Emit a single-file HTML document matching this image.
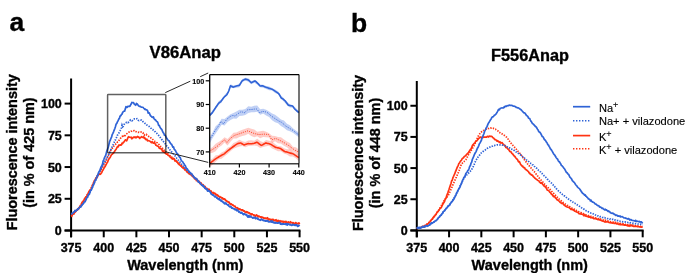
<!DOCTYPE html>
<html><head><meta charset="utf-8"><style>
html,body{margin:0;padding:0;background:#fff;}
body{width:685px;height:273px;overflow:hidden;}
svg{display:block;font-family:"Liberation Sans", sans-serif;will-change:transform;}
text[font-weight="700"]{stroke:#000;stroke-width:0.35px;}
</style></head><body>
<svg width="685" height="273" viewBox="0 0 685 273">
<rect width="685" height="273" fill="#fff"/>
<g id="panelA">
<text x="9.4" y="30.5" font-size="26.5" font-weight="700" text-anchor="start" >a</text>
<text x="185.3" y="58.4" font-size="16.7" font-weight="700" text-anchor="middle" >V86Anap</text>
<text transform="translate(16.8,152.3) rotate(-90)" font-size="14.4" font-weight="700" text-anchor="middle">Fluorescence intensity</text>
<text transform="translate(34.1,152.6) rotate(-90)" font-size="14.4" font-weight="700" text-anchor="middle">(in % of 425 nm)</text>
<text x="185.3" y="269.6" font-size="14.5" font-weight="700" text-anchor="middle" >Wavelength (nm)</text>
<g stroke="#000" stroke-width="2" fill="none">
<path d="M71.1 78.5V237.3"/>
<path d="M64.6 230.5H300.4"/>
<path d="M64.6 230.50H71.1"/>
<path d="M64.6 198.78H71.1"/>
<path d="M64.6 167.05H71.1"/>
<path d="M64.6 135.32H71.1"/>
<path d="M64.6 103.60H71.1"/>
<path d="M71.10 230.5V237.3"/>
<path d="M103.74 230.5V237.3"/>
<path d="M136.38 230.5V237.3"/>
<path d="M169.02 230.5V237.3"/>
<path d="M201.66 230.5V237.3"/>
<path d="M234.30 230.5V237.3"/>
<path d="M266.94 230.5V237.3"/>
<path d="M299.58 230.5V237.3"/>
</g>
<text x="61.8" y="235.0" font-size="12.5" font-weight="700" text-anchor="end" >0</text>
<text x="61.8" y="203.28" font-size="12.5" font-weight="700" text-anchor="end" >25</text>
<text x="61.8" y="171.55" font-size="12.5" font-weight="700" text-anchor="end" >50</text>
<text x="61.8" y="139.82" font-size="12.5" font-weight="700" text-anchor="end" >75</text>
<text x="61.8" y="108.1" font-size="12.5" font-weight="700" text-anchor="end" >100</text>
<text x="71.1" y="251.5" font-size="12.5" font-weight="700" text-anchor="middle" >375</text>
<text x="103.74" y="251.5" font-size="12.5" font-weight="700" text-anchor="middle" >400</text>
<text x="136.38" y="251.5" font-size="12.5" font-weight="700" text-anchor="middle" >425</text>
<text x="169.02" y="251.5" font-size="12.5" font-weight="700" text-anchor="middle" >450</text>
<text x="201.66" y="251.5" font-size="12.5" font-weight="700" text-anchor="middle" >475</text>
<text x="234.3" y="251.5" font-size="12.5" font-weight="700" text-anchor="middle" >500</text>
<text x="266.94" y="251.5" font-size="12.5" font-weight="700" text-anchor="middle" >525</text>
<text x="299.58" y="251.5" font-size="12.5" font-weight="700" text-anchor="middle" >550</text>
<path d="M71.10 216.26L71.75 216.34L72.41 214.66L73.06 214.04L73.71 213.92L74.36 212.99L75.02 211.73L75.67 211.32L76.32 210.76L76.98 210.02L77.63 209.95L78.28 208.31L78.93 208.57L79.59 207.03L80.24 206.07L80.89 205.61L81.55 203.85L82.20 202.03L82.85 201.90L83.50 201.28L84.16 199.79L84.81 198.38L85.46 197.67L86.12 196.75L86.77 196.36L87.42 194.48L88.07 193.44L88.73 191.99L89.38 190.82L90.03 190.05L90.69 189.90L91.34 188.53L91.99 187.02L92.64 184.99L93.30 184.06L93.95 181.74L94.60 180.89L95.26 179.61L95.91 178.34L96.56 177.56L97.21 177.48L97.87 174.98L98.52 174.69L99.17 173.98L99.83 174.32L100.48 174.15L101.13 173.31L101.78 172.39L102.44 170.76L103.09 169.90L103.74 168.71L104.40 167.32L105.05 166.70L105.70 165.29L106.35 164.13L107.01 162.76L107.66 161.88L108.31 159.93L108.97 158.86L109.62 158.09L110.27 157.26L110.92 155.78L111.58 154.57L112.23 154.32L112.88 153.43L113.54 152.95L114.19 151.89L114.84 150.95L115.49 149.97L116.15 149.21L116.80 147.94L117.45 146.71L118.11 146.92L118.76 145.16L119.41 145.33L120.06 144.83L120.72 145.26L121.37 145.00L122.02 143.21L122.68 143.59L123.33 142.23L123.98 141.89L124.63 141.07L125.29 139.94L125.94 139.96L126.59 140.79L127.25 139.53L127.90 137.70L128.55 136.66L129.20 137.22L129.86 137.24L130.51 137.49L131.16 137.18L131.82 138.77L132.47 138.37L133.12 137.34L133.77 137.19L134.43 137.43L135.08 136.88L135.73 137.80L136.38 137.58L137.04 136.84L137.69 136.46L138.34 137.24L139.00 137.05L139.65 138.49L140.30 137.47L140.95 137.35L141.61 136.71L142.26 137.18L142.91 137.41L143.57 136.82L144.22 138.12L144.87 137.82L145.52 139.45L146.18 139.59L146.83 139.03L147.48 140.78L148.14 140.75L148.79 140.63L149.44 141.04L150.09 141.32L150.75 141.92L151.40 142.61L152.05 141.82L152.71 142.22L153.36 143.19L154.01 143.01L154.66 142.75L155.32 144.08L155.97 145.25L156.62 145.46L157.28 146.01L157.93 146.27L158.58 146.60L159.23 148.03L159.89 148.50L160.54 148.34L161.19 149.07L161.85 149.38L162.50 151.24L163.15 151.59L163.80 151.28L164.46 152.71L165.11 152.67L165.76 153.36L166.42 154.18L167.07 153.67L167.72 154.82L168.37 155.51L169.03 155.82L169.68 156.10L170.33 157.39L170.99 157.54L171.64 158.20L172.29 159.05L172.94 158.15L173.60 158.45L174.25 159.09L174.90 160.96L175.56 160.54L176.21 160.99L176.86 162.14L177.51 162.12L178.17 163.60L178.82 164.21L179.47 164.72L180.13 165.31L180.78 166.07L181.43 165.82L182.08 167.37L182.74 167.73L183.39 168.43L184.04 167.77L184.70 169.78L185.35 169.76L186.00 169.74L186.65 171.69L187.31 172.12L187.96 172.48L188.61 173.51L189.27 172.95L189.92 174.29L190.57 174.19L191.22 175.00L191.88 175.80L192.53 175.95L193.18 177.09L193.84 177.05L194.49 178.68L195.14 178.99L195.79 178.67L196.45 180.71L197.10 180.12L197.75 181.08L198.41 181.70L199.06 182.34L199.71 182.02L200.36 183.84L201.02 183.36L201.67 184.08L202.32 185.05L202.98 185.46L203.63 185.66L204.28 186.78L204.93 187.73L205.59 187.46L206.24 188.48L206.89 188.80L207.55 189.09L208.20 189.27L208.85 189.26L209.50 190.37L210.16 190.91L210.81 191.03L211.46 191.68L212.12 192.96L212.77 192.86L213.42 193.53L214.07 193.04L214.73 193.16L215.38 193.93L216.03 194.91L216.69 194.45L217.34 195.60L217.99 195.42L218.64 196.43L219.30 196.88L219.95 197.26L220.60 197.01L221.26 197.70L221.91 197.61L222.56 198.79L223.21 198.42L223.87 199.35L224.52 198.96L225.17 199.51L225.83 200.51L226.48 200.82L227.13 201.22L227.78 201.59L228.44 202.38L229.09 202.23L229.74 203.39L230.40 204.47L231.05 203.95L231.70 204.55L232.35 204.55L233.01 205.07L233.66 205.68L234.31 206.08L234.97 206.44L235.62 207.15L236.27 207.75L236.92 207.92L237.58 207.94L238.23 209.24L238.88 208.76L239.54 209.34L240.19 209.26L240.84 209.91L241.49 209.83L242.15 210.27L242.80 209.90L243.45 210.93L244.11 211.19L244.76 211.36L245.41 212.46L246.06 212.41L246.72 211.58L247.37 212.26L248.02 212.71L248.68 212.53L249.33 213.35L249.98 213.63L250.63 213.90L251.29 214.79L251.94 213.82L252.59 214.55L253.25 214.74L253.90 215.07L254.55 215.43L255.20 216.37L255.86 215.51L256.51 214.82L257.16 215.56L257.82 216.33L258.47 216.81L259.12 216.58L259.77 216.62L260.43 217.03L261.08 216.79L261.73 217.77L262.39 217.05L263.04 217.63L263.69 218.11L264.34 218.16L265.00 218.04L265.65 218.01L266.30 218.47L266.96 218.40L267.61 217.74L268.26 219.68L268.91 219.99L269.57 219.20L270.22 219.81L270.87 219.47L271.52 220.38L272.18 219.74L272.83 219.35L273.48 219.57L274.14 220.67L274.79 220.45L275.44 220.04L276.09 219.75L276.75 221.10L277.40 221.17L278.05 220.41L278.71 221.17L279.36 221.58L280.01 220.76L280.66 222.07L281.32 221.73L281.97 221.09L282.62 221.90L283.28 221.37L283.93 222.34L284.58 221.55L285.23 221.77L285.89 221.35L286.54 222.26L287.19 222.39L287.85 222.36L288.50 221.94L289.15 222.81L289.80 222.63L290.46 221.77L291.11 222.37L291.76 222.47L292.42 223.09L293.07 222.55L293.72 223.52L294.37 223.73L295.03 223.55L295.68 222.56L296.33 223.18L296.99 223.73L297.64 223.53L298.29 223.22L298.94 222.95L299.60 224.25" stroke="#ff3312" stroke-width="1.7" fill="none" stroke-linejoin="round"/>
<path d="M71.10 215.81L71.75 215.11L72.41 214.78L73.06 214.54L73.71 213.87L74.36 213.02L75.02 212.49L75.67 211.61L76.32 211.37L76.98 210.01L77.63 209.27L78.28 208.96L78.93 207.89L79.59 206.97L80.24 205.93L80.89 204.69L81.55 203.87L82.20 202.90L82.85 201.63L83.50 200.54L84.16 199.82L84.81 198.72L85.46 198.00L86.12 196.63L86.77 195.42L87.42 194.65L88.07 193.70L88.73 192.93L89.38 191.55L90.03 190.67L90.69 189.02L91.34 187.56L91.99 186.23L92.64 184.98L93.30 183.47L93.95 182.20L94.60 180.64L95.26 179.29L95.91 178.07L96.56 177.33L97.21 175.80L97.87 174.76L98.52 173.97L99.17 172.82L99.83 171.79L100.48 171.25L101.13 169.71L101.78 168.80L102.44 167.68L103.09 166.19L103.74 165.00L104.40 163.59L105.05 162.30L105.70 160.89L106.35 159.64L107.01 158.19L107.66 156.89L108.31 155.53L108.97 153.78L109.62 152.62L110.27 151.31L110.92 149.99L111.58 149.15L112.23 148.33L112.88 147.65L113.54 146.53L114.19 145.79L114.84 144.92L115.49 144.33L116.15 143.63L116.80 143.20L117.45 142.09L118.11 141.70L118.76 140.77L119.41 139.76L120.06 138.90L120.72 138.05L121.37 137.09L122.02 136.64L122.68 135.71L123.33 135.03L123.98 136.03L124.63 136.93L125.29 135.26L125.94 134.23L126.59 133.80L127.25 133.33L127.90 132.75L128.55 132.24L129.20 132.16L129.86 132.13L130.51 131.67L131.16 131.21L131.82 131.10L132.47 130.83L133.12 130.40L133.77 130.73L134.43 130.71L135.08 131.43L135.73 131.57L136.38 131.77L137.04 132.11L137.69 132.42L138.34 132.47L139.00 132.26L139.65 132.50L140.30 132.34L140.95 132.11L141.61 132.08L142.26 132.30L142.91 132.61L143.57 134.15L144.22 135.26L144.87 134.55L145.52 134.28L146.18 134.23L146.83 135.06L147.48 135.49L148.14 135.87L148.79 136.44L149.44 136.76L150.09 136.99L150.75 137.79L151.40 138.20L152.05 138.51L152.71 139.36L153.36 139.95L154.01 140.56L154.66 141.14L155.32 141.50L155.97 141.76L156.62 142.37L157.28 142.82L157.93 143.50L158.58 144.09L159.23 144.53L159.89 145.41L160.54 146.46L161.19 147.04L161.85 147.49L162.50 148.25L163.15 149.46L163.80 149.93L164.46 150.68L165.11 151.71L165.76 151.89L166.42 152.22L167.07 153.24L167.72 153.75L168.37 154.13L169.03 154.92L169.68 155.48L170.33 155.93L170.99 156.76L171.64 157.01L172.29 157.85L172.94 158.20L173.60 158.65L174.25 159.09L174.90 160.05L175.56 160.47L176.21 161.06L176.86 161.97L177.51 162.29L178.17 162.82L178.82 163.36L179.47 163.73L180.13 164.61L180.78 165.23L181.43 165.83L182.08 166.41L182.74 166.92L183.39 167.34L184.04 168.33L184.70 168.75L185.35 169.71L186.00 170.18L186.65 170.48L187.31 171.42L187.96 171.62L188.61 172.05L189.27 172.97L189.92 173.52L190.57 173.99L191.22 174.65L191.88 175.15L192.53 175.83L193.18 176.16L193.84 176.82L194.49 177.45L195.14 178.36L195.79 178.69L196.45 179.14L197.10 179.60L197.75 180.38L198.41 180.75L199.06 181.29L199.71 182.10L200.36 182.47L201.02 183.19L201.67 183.91L202.32 184.32L202.98 184.68L203.63 185.39L204.28 186.01L204.93 186.44L205.59 187.00L206.24 187.62L206.89 188.46L207.55 189.08L208.20 189.45L208.85 189.43L209.50 190.05L210.16 190.86L210.81 190.94L211.46 191.71L212.12 191.89L212.77 192.19L213.42 192.76L214.07 193.01L214.73 193.39L215.38 194.18L216.03 194.32L216.69 194.61L217.34 195.15L217.99 195.66L218.64 195.61L219.30 196.19L219.95 196.71L220.60 197.15L221.26 197.43L221.91 197.65L222.56 198.33L223.21 198.60L223.87 199.07L224.52 199.60L225.17 200.01L225.83 200.46L226.48 201.07L227.13 201.61L227.78 201.74L228.44 202.08L229.09 202.67L229.74 203.34L230.40 203.65L231.05 204.18L231.70 204.74L232.35 205.10L233.01 205.45L233.66 205.68L234.31 206.32L234.97 206.34L235.62 206.87L236.27 207.04L236.92 207.42L237.58 207.88L238.23 208.23L238.88 208.54L239.54 208.87L240.19 209.13L240.84 209.28L241.49 209.78L242.15 209.94L242.80 210.34L243.45 210.84L244.11 211.01L244.76 211.28L245.41 211.53L246.06 212.00L246.72 212.06L247.37 212.58L248.02 212.79L248.68 212.92L249.33 213.25L249.98 213.66L250.63 213.97L251.29 214.09L251.94 214.35L252.59 214.16L253.25 214.87L253.90 215.15L254.55 214.82L255.20 215.63L255.86 215.68L256.51 215.72L257.16 216.00L257.82 216.16L258.47 216.18L259.12 216.25L259.77 216.77L260.43 216.93L261.08 217.22L261.73 217.44L262.39 217.60L263.04 217.68L263.69 217.96L264.34 218.00L265.00 218.28L265.65 218.54L266.30 218.58L266.96 218.72L267.61 218.91L268.26 219.04L268.91 219.04L269.57 219.47L270.22 219.27L270.87 219.64L271.52 219.71L272.18 219.63L272.83 219.81L273.48 220.36L274.14 220.16L274.79 220.13L275.44 220.60L276.09 220.65L276.75 220.49L277.40 221.01L278.05 220.66L278.71 221.24L279.36 221.25L280.01 221.33L280.66 221.42L281.32 221.33L281.97 221.48L282.62 221.61L283.28 221.70L283.93 222.07L284.58 222.01L285.23 221.84L285.89 222.27L286.54 221.96L287.19 222.29L287.85 222.50L288.50 222.31L289.15 222.39L289.80 222.69L290.46 222.75L291.11 222.87L291.76 222.91L292.42 223.24L293.07 223.06L293.72 222.83L294.37 223.17L295.03 223.10L295.68 223.09L296.33 223.25L296.99 223.41L297.64 223.47L298.29 223.53L298.94 223.44L299.60 223.60" stroke="#ff3312" stroke-width="1.7" fill="none" stroke-dasharray="1.4 1.25"/>
<path d="M71.10 213.83L71.75 213.80L72.41 213.09L73.06 212.94L73.71 212.14L74.36 212.08L75.02 211.47L75.67 210.96L76.32 210.68L76.98 209.71L77.63 209.55L78.28 208.98L78.93 208.32L79.59 207.55L80.24 207.20L80.89 206.15L81.55 205.79L82.20 205.13L82.85 204.26L83.50 203.52L84.16 202.76L84.81 201.71L85.46 200.57L86.12 199.27L86.77 198.34L87.42 197.13L88.07 196.35L88.73 194.82L89.38 193.55L90.03 192.03L90.69 190.79L91.34 189.67L91.99 188.20L92.64 186.83L93.30 185.45L93.95 183.85L94.60 182.44L95.26 180.89L95.91 179.43L96.56 178.17L97.21 176.57L97.87 175.52L98.52 173.97L99.17 172.59L99.83 171.56L100.48 169.87L101.13 168.58L101.78 167.16L102.44 166.19L103.09 164.87L103.74 163.65L104.40 162.79L105.05 161.29L105.70 160.39L106.35 158.99L107.01 157.79L107.66 156.70L108.31 155.83L108.97 153.95L109.62 152.67L110.27 151.03L110.92 149.73L111.58 148.16L112.23 146.32L112.88 145.22L113.54 143.83L114.19 142.41L114.84 140.81L115.49 139.81L116.15 138.25L116.80 137.00L117.45 135.20L118.11 134.22L118.76 133.20L119.41 131.98L120.06 130.83L120.72 129.77L121.37 127.99L122.02 125.16L122.68 126.80L123.33 126.25L123.98 124.68L124.63 123.58L125.29 123.02L125.94 122.74L126.59 122.24L127.25 122.15L127.90 122.71L128.55 122.13L129.20 121.19L129.86 120.64L130.51 119.86L131.16 120.23L131.82 120.75L132.47 120.45L133.12 119.55L133.77 119.15L134.43 118.89L135.08 118.98L135.73 119.16L136.38 118.94L137.04 118.61L137.69 118.94L138.34 120.25L139.00 120.48L139.65 120.17L140.30 120.02L140.95 120.14L141.61 120.10L142.26 120.71L142.91 121.54L143.57 122.11L144.22 122.49L144.87 123.27L145.52 123.64L146.18 124.22L146.83 125.07L147.48 125.31L148.14 125.69L148.79 126.16L149.44 126.77L150.09 127.49L150.75 128.12L151.40 128.50L152.05 129.25L152.71 129.51L153.36 130.29L154.01 130.78L154.66 131.58L155.32 131.78L155.97 132.59L156.62 133.06L157.28 134.08L157.93 134.60L158.58 135.30L159.23 136.22L159.89 137.04L160.54 137.88L161.19 138.75L161.85 139.63L162.50 140.52L163.15 141.03L163.80 142.00L164.46 142.80L165.11 143.58L165.76 144.64L166.42 145.47L167.07 146.29L167.72 146.64L168.37 147.78L169.03 148.45L169.68 149.65L170.33 150.25L170.99 150.98L171.64 151.89L172.29 152.44L172.94 153.48L173.60 154.25L174.25 154.88L174.90 155.63L175.56 156.64L176.21 157.58L176.86 158.37L177.51 158.96L178.17 160.12L178.82 160.93L179.47 161.72L180.13 162.22L180.78 163.11L181.43 164.10L182.08 164.86L182.74 165.51L183.39 166.35L184.04 167.18L184.70 167.89L185.35 168.52L186.00 169.29L186.65 169.90L187.31 170.64L187.96 171.37L188.61 171.86L189.27 172.50L189.92 173.52L190.57 173.82L191.22 174.57L191.88 175.28L192.53 175.63L193.18 176.33L193.84 176.90L194.49 177.69L195.14 177.96L195.79 178.78L196.45 179.58L197.10 179.83L197.75 180.89L198.41 181.17L199.06 182.09L199.71 182.79L200.36 183.46L201.02 184.15L201.67 184.79L202.32 185.24L202.98 185.95L203.63 186.83L204.28 187.19L204.93 188.08L205.59 188.40L206.24 189.16L206.89 189.74L207.55 190.12L208.20 191.20L208.85 191.12L209.50 191.55L210.16 192.41L210.81 193.03L211.46 193.75L212.12 193.99L212.77 194.70L213.42 195.22L214.07 195.80L214.73 195.95L215.38 196.52L216.03 197.35L216.69 197.61L217.34 198.27L217.99 198.38L218.64 199.12L219.30 199.45L219.95 199.80L220.60 200.37L221.26 200.97L221.91 201.29L222.56 201.87L223.21 201.89L223.87 202.40L224.52 203.26L225.17 203.60L225.83 203.51L226.48 204.18L227.13 204.76L227.78 204.99L228.44 205.50L229.09 205.84L229.74 206.43L230.40 206.53L231.05 207.14L231.70 207.75L232.35 207.96L233.01 208.38L233.66 208.64L234.31 209.02L234.97 209.40L235.62 209.90L236.27 210.08L236.92 210.55L237.58 210.55L238.23 211.32L238.88 211.52L239.54 211.89L240.19 212.29L240.84 212.40L241.49 212.74L242.15 213.08L242.80 213.18L243.45 213.81L244.11 213.96L244.76 214.31L245.41 214.58L246.06 215.10L246.72 215.37L247.37 215.32L248.02 215.90L248.68 215.80L249.33 215.99L249.98 216.55L250.63 216.64L251.29 216.89L251.94 216.90L252.59 217.02L253.25 217.43L253.90 217.62L254.55 217.76L255.20 218.30L255.86 218.35L256.51 218.39L257.16 218.78L257.82 218.63L258.47 219.21L259.12 219.26L259.77 219.38L260.43 219.46L261.08 219.87L261.73 219.94L262.39 219.98L263.04 220.18L263.69 220.25L264.34 220.62L265.00 220.81L265.65 221.22L266.30 221.13L266.96 221.14L267.61 221.43L268.26 221.40L268.91 221.34L269.57 221.68L270.22 221.59L270.87 221.74L271.52 221.98L272.18 221.99L272.83 222.08L273.48 222.55L274.14 222.21L274.79 222.84L275.44 222.64L276.09 222.89L276.75 222.99L277.40 222.98L278.05 223.17L278.71 223.24L279.36 223.32L280.01 223.55L280.66 223.47L281.32 223.77L281.97 223.61L282.62 223.96L283.28 223.83L283.93 224.03L284.58 223.81L285.23 224.27L285.89 224.02L286.54 224.34L287.19 224.61L287.85 224.23L288.50 224.37L289.15 224.34L289.80 224.75L290.46 224.61L291.11 224.59L291.76 224.87L292.42 224.53L293.07 225.07L293.72 224.94L294.37 225.30L295.03 225.34L295.68 225.34L296.33 225.36L296.99 225.37L297.64 225.39L298.29 225.85L298.94 225.56L299.60 225.72" stroke="#2f63d6" stroke-width="1.7" fill="none" stroke-dasharray="1.4 1.25"/>
<path d="M71.10 213.75L71.75 213.36L72.41 213.46L73.06 212.76L73.71 212.30L74.36 211.81L75.02 210.39L75.67 210.99L76.32 210.49L76.98 210.04L77.63 208.85L78.28 208.96L78.93 208.27L79.59 207.28L80.24 206.74L80.89 206.88L81.55 204.98L82.20 204.96L82.85 203.91L83.50 203.36L84.16 201.84L84.81 201.79L85.46 200.89L86.12 199.35L86.77 197.79L87.42 197.24L88.07 195.63L88.73 194.11L89.38 194.19L90.03 191.68L90.69 190.50L91.34 189.87L91.99 188.24L92.64 186.94L93.30 184.84L93.95 183.94L94.60 181.83L95.26 179.97L95.91 179.86L96.56 177.36L97.21 176.05L97.87 174.70L98.52 172.74L99.17 171.45L99.83 170.55L100.48 168.62L101.13 166.88L101.78 165.70L102.44 164.41L103.09 161.08L103.74 159.78L104.40 157.98L105.05 156.57L105.70 155.57L106.35 152.83L107.01 150.50L107.66 148.95L108.31 146.93L108.97 144.37L109.62 141.46L110.27 140.24L110.92 138.47L111.58 137.17L112.23 134.55L112.88 133.40L113.54 131.81L114.19 130.14L114.84 128.50L115.49 126.46L116.15 124.04L116.80 123.38L117.45 121.68L118.11 120.84L118.76 119.00L119.41 118.49L120.06 115.96L120.72 115.80L121.37 114.72L122.02 114.11L122.68 112.33L123.33 111.72L123.98 111.13L124.63 111.13L125.29 109.11L125.94 106.68L126.59 107.10L127.25 107.36L127.90 106.30L128.55 106.39L129.20 106.20L129.86 106.40L130.51 105.09L131.16 104.06L131.82 102.45L132.47 102.65L133.12 102.51L133.77 103.03L134.43 104.29L135.08 104.64L135.73 105.23L136.38 103.42L137.04 103.70L137.69 104.52L138.34 105.58L139.00 106.12L139.65 106.41L140.30 106.30L140.95 107.00L141.61 107.20L142.26 107.24L142.91 107.26L143.57 108.04L144.22 108.73L144.87 109.35L145.52 109.20L146.18 109.95L146.83 109.89L147.48 110.36L148.14 113.05L148.79 112.58L149.44 113.18L150.09 114.94L150.75 115.94L151.40 116.35L152.05 117.21L152.71 117.41L153.36 116.78L154.01 118.63L154.66 119.57L155.32 119.62L155.97 120.54L156.62 121.34L157.28 121.77L157.93 122.88L158.58 125.35L159.23 125.34L159.89 126.94L160.54 127.99L161.19 128.94L161.85 129.63L162.50 131.15L163.15 132.57L163.80 133.31L164.46 135.16L165.11 135.18L165.76 136.26L166.42 137.82L167.07 138.84L167.72 139.72L168.37 140.42L169.03 140.73L169.68 141.99L170.33 143.17L170.99 143.95L171.64 144.26L172.29 145.97L172.94 147.24L173.60 146.97L174.25 149.38L174.90 149.87L175.56 150.76L176.21 152.15L176.86 153.35L177.51 153.70L178.17 155.19L178.82 155.92L179.47 157.16L180.13 157.33L180.78 159.38L181.43 160.47L182.08 161.25L182.74 161.91L183.39 162.98L184.04 163.83L184.70 165.20L185.35 165.72L186.00 167.55L186.65 168.45L187.31 168.96L187.96 170.05L188.61 170.93L189.27 171.64L189.92 172.48L190.57 172.81L191.22 173.36L191.88 173.85L192.53 175.03L193.18 176.10L193.84 176.96L194.49 177.64L195.14 178.54L195.79 178.26L196.45 178.45L197.10 179.92L197.75 180.45L198.41 182.20L199.06 181.94L199.71 182.86L200.36 183.23L201.02 184.28L201.67 184.91L202.32 185.63L202.98 186.18L203.63 185.66L204.28 186.89L204.93 188.46L205.59 188.55L206.24 189.23L206.89 188.78L207.55 191.06L208.20 190.59L208.85 191.08L209.50 191.07L210.16 191.81L210.81 193.17L211.46 194.33L212.12 194.59L212.77 194.96L213.42 195.26L214.07 195.97L214.73 196.75L215.38 196.37L216.03 197.06L216.69 197.76L217.34 198.27L217.99 198.80L218.64 199.43L219.30 198.31L219.95 200.03L220.60 200.59L221.26 200.10L221.91 201.37L222.56 201.51L223.21 202.54L223.87 202.71L224.52 203.77L225.17 203.19L225.83 202.92L226.48 204.15L227.13 204.53L227.78 204.59L228.44 205.01L229.09 206.33L229.74 206.69L230.40 206.90L231.05 206.59L231.70 208.07L232.35 208.18L233.01 208.42L233.66 208.67L234.31 208.95L234.97 209.57L235.62 209.21L236.27 210.42L236.92 209.53L237.58 210.69L238.23 210.82L238.88 212.01L239.54 211.64L240.19 212.67L240.84 213.10L241.49 212.43L242.15 213.09L242.80 213.92L243.45 214.62L244.11 213.70L244.76 214.31L245.41 214.26L246.06 214.47L246.72 214.67L247.37 216.45L248.02 217.16L248.68 215.68L249.33 217.07L249.98 215.97L250.63 216.53L251.29 216.94L251.94 217.18L252.59 218.07L253.25 217.61L253.90 217.86L254.55 217.80L255.20 217.29L255.86 218.59L256.51 218.24L257.16 217.93L257.82 219.23L258.47 219.47L259.12 219.60L259.77 219.94L260.43 220.33L261.08 219.47L261.73 219.23L262.39 219.79L263.04 220.45L263.69 220.63L264.34 220.39L265.00 220.97L265.65 220.86L266.30 221.16L266.96 220.65L267.61 220.91L268.26 221.26L268.91 221.95L269.57 221.81L270.22 221.38L270.87 221.03L271.52 222.19L272.18 220.92L272.83 222.38L273.48 222.49L274.14 222.28L274.79 222.84L275.44 222.65L276.09 222.72L276.75 223.08L277.40 223.11L278.05 222.84L278.71 222.64L279.36 222.29L280.01 223.31L280.66 224.13L281.32 223.78L281.97 224.40L282.62 223.73L283.28 224.16L283.93 223.80L284.58 224.15L285.23 224.12L285.89 224.38L286.54 223.60L287.19 225.20L287.85 223.96L288.50 224.02L289.15 224.34L289.80 224.57L290.46 224.58L291.11 225.03L291.76 225.39L292.42 224.62L293.07 224.72L293.72 224.71L294.37 225.25L295.03 224.78L295.68 225.03L296.33 224.54L296.99 225.44L297.64 226.45L298.29 226.03L298.94 225.44L299.60 226.30" stroke="#2f63d6" stroke-width="1.7" fill="none" stroke-linejoin="round"/>
<rect x="107.6" y="94.6" width="58.2" height="58.2" rx="0.6" fill="none" stroke="#000" stroke-opacity="0.62" stroke-width="1.5"/>
<path d="M165.3 92.6L190.3 81.2M200.2 76.7L208.2 73.0" stroke="#2a2a2a" stroke-width="1.0" fill="none"/>
<path d="M165.5 151.8L208.2 162.4" stroke="#2a2a2a" stroke-width="1.0" fill="none"/>
<g id="inset">
<path d="M209.70 113.89L212.67 110.15L215.64 106.45L218.61 101.34L221.58 99.30L224.55 95.26L227.52 91.55L230.49 84.37L233.46 85.54L236.43 85.01L239.40 83.54L242.37 79.11L245.34 77.82L248.31 78.20L251.28 81.40L254.25 79.79L257.22 81.71L260.19 84.62L263.16 84.85L266.13 86.06L269.10 86.62L272.07 87.98L275.04 89.59L278.01 91.18L280.98 95.58L283.95 98.13L286.92 101.65L289.89 104.24L292.86 105.19L295.83 108.01L298.80 111.04L298.80 113.54L295.83 111.27L292.86 107.81L289.89 107.40L286.92 105.08L283.95 101.74L280.98 98.63L278.01 94.36L275.04 92.89L272.07 90.42L269.10 90.19L266.13 89.00L263.16 87.87L260.19 87.14L257.22 84.59L254.25 82.75L251.28 84.21L248.31 81.86L245.34 80.39L242.37 82.25L239.40 87.17L236.43 87.66L233.46 88.13L230.49 87.23L227.52 94.92L224.55 97.70L221.58 102.54L218.61 104.93L215.64 109.37L212.67 113.75L209.70 116.50Z" fill="rgba(60,110,225,0.32)" stroke-linejoin="round"/>
<path d="M209.70 137.08L212.67 132.14L215.64 126.20L218.61 123.69L221.58 118.65L224.55 118.97L227.52 116.38L230.49 114.28L233.46 112.99L236.43 111.60L239.40 109.64L242.37 109.78L245.34 109.10L248.31 106.32L251.28 106.66L254.25 105.84L257.22 105.44L260.19 109.13L263.16 108.70L266.13 109.64L269.10 111.45L272.07 113.48L275.04 114.85L278.01 116.95L280.98 119.47L283.95 120.56L286.92 123.80L289.89 125.16L292.86 128.21L295.83 130.53L298.80 132.46L298.80 137.17L295.83 135.01L292.86 132.75L289.89 131.37L286.92 130.30L283.95 127.64L280.98 126.08L278.01 123.29L275.04 122.37L272.07 120.34L269.10 117.03L266.13 115.41L263.16 113.51L260.19 114.67L257.22 111.83L254.25 112.17L251.28 112.16L248.31 113.08L245.34 114.95L242.37 115.73L239.40 116.01L236.43 118.75L233.46 118.39L230.49 120.11L227.52 121.92L224.55 125.48L221.58 124.66L218.61 129.13L215.64 133.59L212.67 138.10L209.70 143.38Z" fill="rgba(60,110,225,0.32)" stroke-linejoin="round"/>
<path d="M209.70 149.06L212.67 146.92L215.64 143.75L218.61 141.97L221.58 139.99L224.55 137.13L227.52 139.12L230.49 135.90L233.46 132.64L236.43 132.55L239.40 131.01L242.37 129.64L245.34 128.81L248.31 127.77L251.28 128.85L254.25 129.53L257.22 131.63L260.19 131.18L263.16 130.82L266.13 131.75L269.10 133.17L272.07 135.71L275.04 136.03L278.01 136.92L280.98 137.18L283.95 139.40L286.92 141.47L289.89 142.88L292.86 146.81L295.83 147.21L298.80 149.40L298.80 155.66L295.83 152.97L292.86 151.18L289.89 149.69L286.92 147.20L283.95 145.71L280.98 143.53L278.01 143.31L275.04 141.17L272.07 143.12L269.10 137.38L266.13 137.27L263.16 137.01L260.19 138.23L257.22 136.35L254.25 137.28L251.28 135.89L248.31 133.80L245.34 135.33L242.37 136.06L239.40 137.11L236.43 138.43L233.46 138.54L230.49 141.65L227.52 145.58L224.55 142.57L221.58 145.41L218.61 147.52L215.64 151.29L212.67 152.70L209.70 153.33Z" fill="rgba(255,70,50,0.28)" stroke-linejoin="round"/>
<path d="M209.70 160.21L212.67 158.42L215.64 155.27L218.61 155.06L221.58 152.39L224.55 151.06L227.52 147.73L230.49 146.60L233.46 143.08L236.43 141.64L239.40 139.72L242.37 141.30L245.34 142.02L248.31 140.38L251.28 140.18L254.25 140.80L257.22 138.82L260.19 141.11L263.16 142.37L266.13 140.07L269.10 140.73L272.07 141.55L275.04 144.00L278.01 145.90L280.98 146.27L283.95 148.33L286.92 149.36L289.89 149.33L292.86 151.43L295.83 153.44L298.80 154.85L298.80 161.15L295.83 158.31L292.86 156.41L289.89 156.49L286.92 154.47L283.95 153.48L280.98 151.24L278.01 151.21L275.04 149.78L272.07 148.57L269.10 145.65L266.13 146.13L263.16 146.94L260.19 148.04L257.22 145.98L254.25 145.42L251.28 145.87L248.31 146.07L245.34 147.21L242.37 146.08L239.40 146.39L236.43 147.49L233.46 148.65L230.49 151.34L227.52 154.03L224.55 156.21L221.58 158.81L218.61 159.23L215.64 161.72L212.67 164.67L209.70 166.72Z" fill="rgba(255,70,50,0.28)" stroke-linejoin="round"/>
<path d="M209.70 115.40L210.44 114.66L211.19 113.92L211.93 113.18L212.67 112.12L213.41 110.99L214.16 109.85L214.90 108.72L215.64 107.58L216.38 106.51L217.12 105.45L217.87 104.38L218.61 103.31L219.35 102.72L220.09 102.13L220.84 101.54L221.58 100.60L222.32 99.58L223.06 98.55L223.81 97.53L224.55 96.68L225.29 96.09L226.03 95.49L226.78 94.75L227.52 93.39L228.26 92.04L229.00 90.32L229.75 88.05L230.49 85.78L231.23 86.17L231.97 86.57L232.72 86.96L233.46 87.09L234.20 86.82L234.94 86.55L235.69 86.28L236.43 86.01L237.17 85.84L237.91 85.66L238.66 85.48L239.40 85.30L240.14 84.05L240.88 82.80L241.63 81.55L242.37 80.65L243.11 80.27L243.85 79.90L244.60 79.52L245.34 79.14L246.08 79.36L246.82 79.57L247.57 79.79L248.31 80.00L249.05 80.52L249.79 81.25L250.54 81.97L251.28 82.70L252.02 82.33L252.76 81.97L253.51 81.60L254.25 81.24L254.99 80.87L255.73 81.38L256.48 82.10L257.22 82.83L257.96 83.57L258.70 84.38L259.45 85.20L260.19 86.01L260.93 85.94L261.68 85.87L262.42 85.79L263.16 86.04L263.90 86.36L264.64 86.68L265.39 87.01L266.13 87.31L266.87 87.58L267.62 87.85L268.36 88.11L269.10 88.38L269.84 88.60L270.58 88.81L271.33 89.03L272.07 89.25L272.81 89.62L273.56 90.11L274.30 90.59L275.04 91.08L275.78 91.57L276.52 92.11L277.27 92.65L278.01 93.19L278.75 93.73L279.50 94.90L280.24 96.23L280.98 97.57L281.72 98.31L282.46 98.67L283.21 99.21L283.95 99.87L284.69 100.52L285.44 101.18L286.18 102.19L286.92 103.20L287.66 104.20L288.40 105.21L289.15 105.36L289.89 105.51L290.63 105.66L291.38 105.76L292.12 105.86L292.86 106.34L293.60 107.37L294.35 108.41L295.09 109.37L295.83 110.01L296.57 110.64L297.31 111.28L298.06 111.92L298.80 112.56" stroke="#2f63d6" stroke-width="1.6" fill="none" stroke-linejoin="round"/>
<path d="M209.70 139.58L210.44 138.36L211.19 137.15L211.93 135.93L212.67 134.72L213.41 133.50L214.16 132.29L214.90 131.07L215.64 129.86L216.38 128.85L217.12 127.84L217.87 126.84L218.61 125.83L219.35 124.35L220.09 122.87L220.84 121.39L221.58 121.86L222.32 122.82L223.06 123.79L223.81 123.52L224.55 122.45L225.29 121.37L226.03 120.29L226.78 119.31L227.52 118.72L228.26 118.13L229.00 117.54L229.75 116.94L230.49 116.35L231.23 115.98L231.97 115.76L232.72 115.54L233.46 115.52L234.20 115.82L234.94 116.11L235.69 115.52L236.43 114.93L237.17 114.34L237.91 113.74L238.66 113.26L239.40 112.77L240.14 112.29L240.88 111.80L241.63 111.77L242.37 112.04L243.11 112.31L243.85 112.58L244.60 112.65L245.34 111.95L246.08 111.25L246.82 110.55L247.57 109.85L248.31 109.68L249.05 109.63L249.79 109.59L250.54 109.54L251.28 109.50L252.02 109.42L252.76 109.32L253.51 109.22L254.25 109.12L254.99 109.02L255.73 109.00L256.48 109.00L257.22 109.42L257.96 110.48L258.70 111.53L259.45 112.58L260.19 112.51L260.93 112.16L261.68 111.80L262.42 111.44L263.16 111.47L263.90 111.60L264.64 111.73L265.39 111.86L266.13 111.98L266.87 112.21L267.62 112.85L268.36 113.49L269.10 114.13L269.84 114.76L270.58 115.40L271.33 115.95L272.07 116.50L272.81 117.05L273.56 117.60L274.30 118.15L275.04 118.67L275.78 119.13L276.52 119.60L277.27 120.07L278.01 120.53L278.75 121.00L279.50 121.37L280.24 121.73L280.98 122.09L281.72 122.44L282.46 123.06L283.21 123.76L283.95 124.45L284.69 125.14L285.44 125.83L286.18 126.29L286.92 126.74L287.66 127.20L288.40 127.65L289.15 128.11L289.89 128.56L290.63 129.02L291.38 129.48L292.12 129.93L292.86 130.39L293.60 130.93L294.35 131.52L295.09 132.11L295.83 132.70L296.57 133.28L297.31 133.80L298.06 134.32L298.80 134.84" stroke="#2f63d6" stroke-width="1.0" fill="none" stroke-linejoin="round" stroke-dasharray="1 1.2"/>
<path d="M209.70 151.19L210.44 150.73L211.19 150.28L211.93 149.82L212.67 149.37L213.41 148.91L214.16 148.41L214.90 147.89L215.64 147.38L216.38 146.87L217.12 146.35L217.87 145.84L218.61 145.14L219.35 144.39L220.09 143.64L220.84 142.89L221.58 142.14L222.32 141.39L223.06 140.88L223.81 140.44L224.55 139.99L225.29 140.47L226.03 141.57L226.78 142.67L227.52 142.08L228.26 141.05L229.00 140.03L229.75 139.01L230.49 138.19L231.23 137.67L231.97 137.16L232.72 136.65L233.46 136.13L234.20 135.62L234.94 135.22L235.69 134.98L236.43 134.74L237.17 134.50L237.91 134.27L238.66 134.03L239.40 133.78L240.14 133.50L240.88 133.22L241.63 132.95L242.37 132.67L243.11 132.39L243.85 132.13L244.60 131.90L245.34 131.66L246.08 131.42L246.82 131.19L247.57 130.95L248.31 130.95L249.05 131.30L249.79 131.66L250.54 132.02L251.28 132.35L252.02 132.64L252.76 132.94L253.51 133.24L254.25 133.48L254.99 133.66L255.73 133.83L256.48 134.01L257.22 134.18L257.96 134.36L258.70 134.53L259.45 134.56L260.19 134.49L260.93 134.43L261.68 134.36L262.42 134.30L263.16 134.23L263.90 134.16L264.64 134.16L265.39 134.24L266.13 134.31L266.87 134.39L267.62 134.47L268.36 134.55L269.10 135.12L269.84 136.42L270.58 137.73L271.33 139.03L272.07 139.70L272.81 139.43L273.56 139.16L274.30 138.88L275.04 138.61L275.78 138.46L276.52 138.82L277.27 139.17L278.01 139.53L278.75 139.88L279.50 140.24L280.24 140.60L280.98 141.00L281.72 141.39L282.46 141.79L283.21 142.18L283.95 142.58L284.69 142.99L285.44 143.46L286.18 143.94L286.92 144.41L287.66 144.88L288.40 145.36L289.15 145.86L289.89 146.45L290.63 147.04L291.38 147.63L292.12 148.23L292.86 148.82L293.60 149.27L294.35 149.73L295.09 150.19L295.83 150.64L296.57 151.10L297.31 151.46L298.06 151.80L298.80 152.14" stroke="#ff3312" stroke-width="1.0" fill="none" stroke-linejoin="round" stroke-dasharray="1 1.2"/>
<path d="M209.70 163.75L210.44 163.04L211.19 162.33L211.93 161.74L212.67 161.14L213.41 160.55L214.16 159.96L214.90 159.37L215.64 158.87L216.38 158.39L217.12 157.92L217.87 157.45L218.61 156.97L219.35 156.50L220.09 156.09L220.84 155.69L221.58 155.30L222.32 154.90L223.06 154.51L223.81 154.11L224.55 153.53L225.29 152.90L226.03 152.26L226.78 151.63L227.52 151.00L228.26 150.37L229.00 149.80L229.75 149.24L230.49 148.69L231.23 148.13L231.97 147.57L232.72 147.02L233.46 146.48L234.20 145.97L234.94 145.45L235.69 144.94L236.43 144.43L237.17 143.91L237.91 143.53L238.66 143.36L239.40 143.18L240.14 143.00L240.88 143.07L241.63 143.52L242.37 143.96L243.11 144.40L243.85 144.85L244.60 144.86L245.34 144.59L246.08 144.32L246.82 144.04L247.57 143.77L248.31 143.63L249.05 143.69L249.79 143.75L250.54 143.81L251.28 143.79L252.02 143.68L252.76 143.56L253.51 143.44L254.25 143.25L254.99 142.95L255.73 142.66L256.48 142.36L257.22 142.40L257.96 142.96L258.70 143.51L259.45 144.06L260.19 144.62L260.93 145.17L261.68 145.33L262.42 144.89L263.16 144.46L263.90 144.02L264.64 143.59L265.39 143.15L266.13 142.98L266.87 143.19L267.62 143.40L268.36 143.60L269.10 143.81L269.84 144.02L270.58 144.23L271.33 144.60L272.07 145.09L272.81 145.57L273.56 146.05L274.30 146.53L275.04 147.01L275.78 147.43L276.52 147.59L277.27 147.74L278.01 147.90L278.75 148.06L279.50 148.22L280.24 148.45L280.98 148.96L281.72 149.47L282.46 149.99L283.21 150.50L283.95 151.02L284.69 151.47L285.44 151.66L286.18 151.86L286.92 152.06L287.66 152.26L288.40 152.45L289.15 152.66L289.89 152.90L290.63 153.13L291.38 153.37L292.12 153.61L292.86 153.84L293.60 154.13L294.35 154.63L295.09 155.12L295.83 155.61L296.57 156.11L297.31 156.60L298.06 157.09L298.80 157.59" stroke="#ff3312" stroke-width="1.6" fill="none" stroke-linejoin="round"/>
<g stroke="#000" fill="none">
<path d="M209.7 74.6H299.0" stroke-width="1.2"/>
<path d="M299.0 74.6V163.7" stroke-width="1.5" stroke="#000" stroke-opacity="0.72"/>
<path d="M209.7 74.6V163.7" stroke-width="1.3"/>
<path d="M209.7 163.7H299.0" stroke-width="1.4" stroke-opacity="0.75"/>
<path d="M205.7 80.80H209.7" stroke-width="1.2"/>
<path d="M205.7 104.50H209.7" stroke-width="1.2"/>
<path d="M205.7 128.20H209.7" stroke-width="1.2"/>
<path d="M205.7 151.90H209.7" stroke-width="1.2"/>
<path d="M209.70 163.7V167.4" stroke-width="1.2"/>
<path d="M239.40 163.7V167.4" stroke-width="1.2"/>
<path d="M269.10 163.7V167.4" stroke-width="1.2"/>
<path d="M298.80 163.7V167.4" stroke-width="1.2"/>
</g>
<text x="204.2" y="83.5" font-size="7.2" font-weight="700" text-anchor="end" style="stroke-width:0.1px">100</text>
<text x="204.2" y="107.2" font-size="7.2" font-weight="700" text-anchor="end" style="stroke-width:0.1px">90</text>
<text x="204.2" y="130.9" font-size="7.2" font-weight="700" text-anchor="end" style="stroke-width:0.1px">80</text>
<text x="204.2" y="154.6" font-size="7.2" font-weight="700" text-anchor="end" style="stroke-width:0.1px">70</text>
<text x="209.7" y="175.1" font-size="7.2" font-weight="700" text-anchor="middle" style="stroke-width:0.1px">410</text>
<text x="239.4" y="175.1" font-size="7.2" font-weight="700" text-anchor="middle" style="stroke-width:0.1px">420</text>
<text x="269.1" y="175.1" font-size="7.2" font-weight="700" text-anchor="middle" style="stroke-width:0.1px">430</text>
<text x="298.8" y="175.1" font-size="7.2" font-weight="700" text-anchor="middle" style="stroke-width:0.1px">440</text>
</g>
</g>
<g id="panelB">
<text x="351.0" y="32.2" font-size="26.5" font-weight="700" text-anchor="start" >b</text>
<text x="530" y="60.5" font-size="16.3" font-weight="700" text-anchor="middle" >F556Anap</text>
<text transform="translate(363.1,153) rotate(-90)" font-size="14.4" font-weight="700" text-anchor="middle">Fluorescence intensity</text>
<text transform="translate(379.7,153) rotate(-90)" font-size="14.4" font-weight="700" text-anchor="middle">(in % of 448 nm)</text>
<text x="529.75" y="269.6" font-size="14.5" font-weight="700" text-anchor="middle" >Wavelength (nm)</text>
<g stroke="#000" stroke-width="2" fill="none">
<path d="M416.8 81V237.3"/>
<path d="M410.4 230.4H643.6"/>
<path d="M410.4 230.40H416.8"/>
<path d="M410.4 199.24H416.8"/>
<path d="M410.4 168.08H416.8"/>
<path d="M410.4 136.92H416.8"/>
<path d="M410.4 105.76H416.8"/>
<path d="M416.80 230.4V237.3"/>
<path d="M449.07 230.4V237.3"/>
<path d="M481.34 230.4V237.3"/>
<path d="M513.61 230.4V237.3"/>
<path d="M545.88 230.4V237.3"/>
<path d="M578.15 230.4V237.3"/>
<path d="M610.42 230.4V237.3"/>
<path d="M642.69 230.4V237.3"/>
</g>
<text x="407.6" y="234.9" font-size="12.5" font-weight="700" text-anchor="end" >0</text>
<text x="407.6" y="203.74" font-size="12.5" font-weight="700" text-anchor="end" >25</text>
<text x="407.6" y="172.58" font-size="12.5" font-weight="700" text-anchor="end" >50</text>
<text x="407.6" y="141.42" font-size="12.5" font-weight="700" text-anchor="end" >75</text>
<text x="407.6" y="110.26" font-size="12.5" font-weight="700" text-anchor="end" >100</text>
<text x="416.8" y="251.5" font-size="12.5" font-weight="700" text-anchor="middle" >375</text>
<text x="449.07" y="251.5" font-size="12.5" font-weight="700" text-anchor="middle" >400</text>
<text x="481.34" y="251.5" font-size="12.5" font-weight="700" text-anchor="middle" >425</text>
<text x="513.61" y="251.5" font-size="12.5" font-weight="700" text-anchor="middle" >450</text>
<text x="545.88" y="251.5" font-size="12.5" font-weight="700" text-anchor="middle" >475</text>
<text x="578.15" y="251.5" font-size="12.5" font-weight="700" text-anchor="middle" >500</text>
<text x="610.42" y="251.5" font-size="12.5" font-weight="700" text-anchor="middle" >525</text>
<text x="642.69" y="251.5" font-size="12.5" font-weight="700" text-anchor="middle" >550</text>
<path d="M416.80 228.55L417.45 228.09L418.09 227.76L418.74 228.27L419.38 228.16L420.03 227.57L420.67 227.66L421.32 227.19L421.96 226.69L422.61 226.76L423.25 226.32L423.90 227.08L424.54 225.65L425.19 225.60L425.83 225.37L426.48 224.61L427.12 224.39L427.77 223.82L428.42 223.52L429.06 222.50L429.71 222.11L430.35 221.28L431.00 220.08L431.64 219.59L432.29 219.26L432.93 217.95L433.58 217.00L434.22 216.51L434.87 215.69L435.51 214.87L436.16 214.29L436.80 212.77L437.45 212.08L438.09 211.39L438.74 210.54L439.39 209.74L440.03 208.37L440.68 208.04L441.32 207.51L441.97 205.89L442.61 204.55L443.26 203.46L443.90 202.55L444.55 201.62L445.19 199.06L445.84 198.46L446.48 196.40L447.13 194.67L447.77 192.94L448.42 190.94L449.06 189.23L449.71 187.28L450.36 185.36L451.00 183.45L451.65 180.85L452.29 180.13L452.94 177.69L453.58 176.29L454.23 174.76L454.87 173.48L455.52 171.50L456.16 170.25L456.81 168.31L457.45 166.80L458.10 165.88L458.74 163.82L459.39 163.03L460.04 161.91L460.68 160.92L461.33 160.31L461.97 159.11L462.62 158.20L463.26 157.98L463.91 157.12L464.55 156.21L465.20 155.96L465.84 155.57L466.49 154.39L467.13 153.95L467.78 153.25L468.42 152.81L469.07 151.43L469.71 150.81L470.36 149.43L471.01 149.07L471.65 147.67L472.30 145.75L472.94 144.66L473.59 144.16L474.23 143.26L474.88 143.19L475.52 141.46L476.17 141.06L476.81 140.86L477.46 139.90L478.10 139.34L478.75 138.28L479.39 138.02L480.04 137.06L480.68 137.18L481.33 137.49L481.98 137.23L482.62 137.69L483.27 136.96L483.91 137.28L484.56 137.08L485.20 137.00L485.85 137.07L486.49 137.17L487.14 136.62L487.78 136.27L488.43 136.98L489.07 136.23L489.72 136.14L490.36 136.37L491.01 136.29L491.65 136.27L492.30 136.94L492.95 137.75L493.59 138.08L494.24 138.92L494.88 139.56L495.53 139.48L496.17 140.13L496.82 141.06L497.46 140.55L498.11 141.45L498.75 141.43L499.40 142.41L500.04 141.83L500.69 143.05L501.33 142.72L501.98 142.59L502.62 143.49L503.27 144.13L503.92 144.99L504.56 145.37L505.21 145.65L505.85 147.38L506.50 147.73L507.14 147.74L507.79 149.03L508.43 149.26L509.08 150.11L509.72 151.28L510.37 151.72L511.01 151.91L511.66 153.14L512.30 153.74L512.95 154.26L513.60 155.33L514.24 155.99L514.89 156.51L515.53 157.55L516.18 158.33L516.82 158.98L517.47 159.47L518.11 160.93L518.76 161.94L519.40 161.64L520.05 163.05L520.69 164.72L521.34 164.98L521.98 166.06L522.63 165.99L523.27 167.29L523.92 167.74L524.57 167.71L525.21 169.10L525.86 169.53L526.50 170.05L527.15 170.47L527.79 171.07L528.44 171.54L529.08 172.84L529.73 173.10L530.37 174.40L531.02 174.45L531.66 175.11L532.31 175.07L532.95 176.11L533.60 176.89L534.24 177.44L534.89 178.16L535.54 178.57L536.18 179.16L536.83 179.48L537.47 180.19L538.12 180.53L538.76 180.73L539.41 181.97L540.05 182.40L540.70 183.12L541.34 182.62L541.99 183.31L542.63 184.27L543.28 185.02L543.92 185.98L544.57 186.01L545.21 186.97L545.86 187.55L546.51 188.34L547.15 189.97L547.80 190.28L548.44 190.62L549.09 191.00L549.73 192.21L550.38 192.56L551.02 193.46L551.67 194.42L552.31 194.58L552.96 195.86L553.60 196.60L554.25 196.33L554.89 197.05L555.54 198.07L556.18 198.39L556.83 199.55L557.48 199.98L558.12 200.32L558.77 200.86L559.41 201.32L560.06 202.44L560.70 202.21L561.35 203.36L561.99 203.50L562.64 203.11L563.28 204.07L563.93 204.99L564.57 205.14L565.22 205.91L565.86 206.29L566.51 206.74L567.15 206.97L567.80 207.24L568.45 207.41L569.09 207.28L569.74 208.18L570.38 208.60L571.03 209.40L571.67 208.97L572.32 209.67L572.96 209.54L573.61 210.35L574.25 210.17L574.90 211.22L575.54 211.48L576.19 211.75L576.83 212.09L577.48 212.22L578.12 212.57L578.77 213.58L579.42 213.62L580.06 213.82L580.71 213.67L581.35 214.25L582.00 214.20L582.64 214.48L583.29 214.88L583.93 215.84L584.58 214.82L585.22 215.51L585.87 216.06L586.51 216.00L587.16 216.48L587.80 216.52L588.45 217.02L589.10 216.30L589.74 217.26L590.39 217.24L591.03 217.79L591.68 217.51L592.32 217.50L592.97 218.07L593.61 218.58L594.26 218.43L594.90 218.74L595.55 218.60L596.19 218.95L596.84 219.11L597.48 219.45L598.13 219.64L598.77 219.73L599.42 219.50L600.07 220.08L600.71 220.06L601.36 220.56L602.00 220.69L602.65 221.13L603.29 220.98L603.94 221.30L604.58 221.96L605.23 221.71L605.87 222.05L606.52 221.83L607.16 222.02L607.81 221.64L608.45 222.14L609.10 222.51L609.74 222.60L610.39 222.73L611.04 222.89L611.68 222.71L612.33 223.17L612.97 223.03L613.62 222.92L614.26 223.52L614.91 223.47L615.55 223.06L616.20 223.53L616.84 223.90L617.49 223.71L618.13 224.08L618.78 224.36L619.42 223.94L620.07 224.60L620.71 224.63L621.36 224.57L622.01 224.36L622.65 224.52L623.30 225.01L623.94 224.92L624.59 225.12L625.23 224.85L625.88 225.10L626.52 225.51L627.17 225.13L627.81 225.88L628.46 225.67L629.10 226.24L629.75 225.44L630.39 225.86L631.04 225.71L631.68 225.14L632.33 225.96L632.98 226.06L633.62 226.37L634.27 226.20L634.91 226.49L635.56 226.25L636.20 226.34L636.85 226.48L637.49 226.69L638.14 226.74L638.78 226.77L639.43 226.86L640.07 226.71L640.72 227.15L641.36 227.06L642.01 226.91L642.65 226.56" stroke="#ff3312" stroke-width="1.7" fill="none" stroke-linejoin="round"/>
<path d="M416.80 228.42L417.45 228.41L418.09 228.27L418.74 228.20L419.38 227.89L420.03 227.99L420.67 227.44L421.32 227.37L421.96 227.10L422.61 226.94L423.25 226.74L423.90 226.29L424.54 225.79L425.19 225.44L425.83 224.93L426.48 224.60L427.12 224.04L427.77 223.56L428.42 223.12L429.06 222.44L429.71 221.88L430.35 221.08L431.00 220.52L431.64 219.77L432.29 218.94L432.93 218.09L433.58 217.40L434.22 216.55L434.87 215.64L435.51 214.64L436.16 213.97L436.80 213.08L437.45 211.65L438.09 211.09L438.74 210.06L439.39 209.26L440.03 207.94L440.68 206.74L441.32 205.63L441.97 204.44L442.61 203.25L443.26 202.06L443.90 200.90L444.55 200.15L445.19 199.22L445.84 198.18L446.48 197.48L447.13 196.84L447.77 196.06L448.42 194.97L449.06 193.69L449.71 192.31L450.36 190.85L451.00 189.39L451.65 188.06L452.29 186.16L452.94 184.72L453.58 183.29L454.23 181.81L454.87 180.24L455.52 178.97L456.16 177.53L456.81 176.03L457.45 174.39L458.10 173.23L458.74 171.34L459.39 169.92L460.04 167.93L460.68 166.07L461.33 164.54L461.97 163.81L462.62 162.73L463.26 162.03L463.91 161.63L464.55 161.02L465.20 160.34L465.84 159.77L466.49 158.24L467.13 157.28L467.78 156.22L468.42 154.75L469.07 153.66L469.71 152.72L470.36 151.70L471.01 150.63L471.65 149.81L472.30 148.82L472.94 147.35L473.59 146.29L474.23 145.11L474.88 143.57L475.52 142.67L476.17 141.02L476.81 139.25L477.46 137.77L478.10 136.33L478.75 135.18L479.39 134.19L480.04 133.45L480.68 132.78L481.33 132.06L481.98 131.48L482.62 131.05L483.27 130.52L483.91 130.52L484.56 129.99L485.20 129.82L485.85 129.20L486.49 129.18L487.14 128.82L487.78 128.63L488.43 128.53L489.07 128.36L489.72 128.04L490.36 127.90L491.01 128.00L491.65 127.74L492.30 128.06L492.95 128.16L493.59 128.48L494.24 128.69L494.88 129.31L495.53 129.25L496.17 129.68L496.82 130.09L497.46 130.50L498.11 131.08L498.75 131.86L499.40 132.27L500.04 132.85L500.69 133.24L501.33 133.53L501.98 133.82L502.62 134.56L503.27 134.91L503.92 135.16L504.56 135.52L505.21 136.01L505.85 136.63L506.50 137.12L507.14 137.86L507.79 138.82L508.43 139.45L509.08 140.71L509.72 141.44L510.37 142.33L511.01 143.11L511.66 143.81L512.30 144.75L512.95 145.44L513.60 146.09L514.24 146.69L514.89 147.70L515.53 148.27L516.18 149.07L516.82 149.96L517.47 150.56L518.11 151.52L518.76 152.18L519.40 152.95L520.05 153.50L520.69 154.69L521.34 155.31L521.98 156.20L522.63 157.11L523.27 158.03L523.92 158.72L524.57 159.89L525.21 160.62L525.86 161.63L526.50 162.38L527.15 163.19L527.79 164.29L528.44 165.02L529.08 165.69L529.73 166.45L530.37 167.40L531.02 167.93L531.66 168.63L532.31 169.52L532.95 170.25L533.60 171.19L534.24 171.68L534.89 172.37L535.54 173.05L536.18 174.16L536.83 174.75L537.47 175.85L538.12 176.53L538.76 177.36L539.41 178.35L540.05 179.01L540.70 179.69L541.34 180.44L541.99 181.22L542.63 181.88L543.28 182.45L543.92 183.10L544.57 184.18L545.21 184.62L545.86 185.20L546.51 186.14L547.15 186.43L547.80 186.98L548.44 187.96L549.09 188.74L549.73 189.20L550.38 189.66L551.02 190.20L551.67 191.21L552.31 192.00L552.96 192.84L553.60 193.38L554.25 194.29L554.89 194.88L555.54 195.45L556.18 196.22L556.83 196.99L557.48 197.44L558.12 197.94L558.77 198.53L559.41 199.47L560.06 199.77L560.70 200.33L561.35 200.97L561.99 201.60L562.64 202.07L563.28 202.59L563.93 202.71L564.57 203.41L565.22 203.94L565.86 204.32L566.51 204.65L567.15 205.27L567.80 205.59L568.45 206.04L569.09 206.59L569.74 206.75L570.38 207.30L571.03 207.58L571.67 207.92L572.32 208.52L572.96 208.92L573.61 209.24L574.25 209.23L574.90 209.84L575.54 210.22L576.19 210.30L576.83 210.90L577.48 210.89L578.12 211.52L578.77 211.69L579.42 212.02L580.06 212.27L580.71 212.48L581.35 212.78L582.00 213.30L582.64 213.55L583.29 213.69L583.93 213.84L584.58 214.23L585.22 214.50L585.87 214.90L586.51 214.84L587.16 215.11L587.80 215.49L588.45 215.62L589.10 215.62L589.74 216.09L590.39 216.32L591.03 216.35L591.68 216.87L592.32 216.89L592.97 217.07L593.61 217.34L594.26 217.49L594.90 217.67L595.55 217.80L596.19 218.02L596.84 218.10L597.48 218.26L598.13 218.54L598.77 218.75L599.42 219.17L600.07 218.94L600.71 219.21L601.36 219.38L602.00 219.45L602.65 219.83L603.29 220.00L603.94 220.00L604.58 220.68L605.23 220.31L605.87 220.55L606.52 220.90L607.16 221.00L607.81 220.92L608.45 221.29L609.10 221.25L609.74 221.45L610.39 221.64L611.04 221.79L611.68 221.94L612.33 222.11L612.97 222.16L613.62 222.21L614.26 222.70L614.91 222.39L615.55 222.41L616.20 223.01L616.84 222.77L617.49 223.02L618.13 223.05L618.78 223.26L619.42 223.50L620.07 223.39L620.71 223.56L621.36 223.63L622.01 223.91L622.65 223.92L623.30 223.88L623.94 224.30L624.59 224.16L625.23 224.51L625.88 224.29L626.52 224.22L627.17 224.77L627.81 224.71L628.46 224.71L629.10 225.00L629.75 224.85L630.39 225.02L631.04 225.18L631.68 225.10L632.33 225.29L632.98 225.07L633.62 225.33L634.27 225.52L634.91 225.59L635.56 225.85L636.20 225.87L636.85 225.98L637.49 225.88L638.14 225.96L638.78 226.23L639.43 226.11L640.07 226.22L640.72 226.35L641.36 226.26L642.01 226.42L642.65 226.53" stroke="#ff3312" stroke-width="1.7" fill="none" stroke-dasharray="1.4 1.25"/>
<path d="M416.80 227.98L417.45 228.24L418.09 227.96L418.74 227.66L419.38 227.99L420.03 227.62L420.67 227.66L421.32 227.26L421.96 227.37L422.61 227.25L423.25 226.80L423.90 226.69L424.54 226.73L425.19 226.77L425.83 226.53L426.48 226.04L427.12 225.79L427.77 225.76L428.42 225.13L429.06 224.91L429.71 224.72L430.35 224.32L431.00 223.91L431.64 223.63L432.29 223.06L432.93 222.76L433.58 222.33L434.22 221.76L434.87 221.36L435.51 221.12L436.16 220.39L436.80 219.92L437.45 219.12L438.09 218.39L438.74 217.90L439.39 216.84L440.03 215.95L440.68 215.33L441.32 214.71L441.97 213.76L442.61 212.88L443.26 212.03L443.90 211.21L444.55 210.57L445.19 209.77L445.84 208.86L446.48 207.83L447.13 207.44L447.77 206.75L448.42 205.93L449.06 205.05L449.71 204.49L450.36 204.03L451.00 202.96L451.65 202.12L452.29 201.27L452.94 200.36L453.58 199.28L454.23 197.70L454.87 196.70L455.52 195.47L456.16 194.33L456.81 192.84L457.45 191.36L458.10 190.06L458.74 188.72L459.39 187.19L460.04 185.93L460.68 184.69L461.33 183.60L461.97 182.05L462.62 180.91L463.26 179.63L463.91 178.44L464.55 177.39L465.20 176.45L465.84 176.12L466.49 175.04L467.13 174.57L467.78 173.89L468.42 173.40L469.07 172.47L469.71 172.01L470.36 171.19L471.01 170.59L471.65 169.43L472.30 168.41L472.94 167.24L473.59 165.74L474.23 164.32L474.88 162.87L475.52 161.18L476.17 160.02L476.81 158.99L477.46 158.18L478.10 156.92L478.75 156.18L479.39 155.36L480.04 154.62L480.68 153.56L481.33 152.89L481.98 152.43L482.62 151.84L483.27 151.27L483.91 150.74L484.56 150.24L485.20 149.97L485.85 149.44L486.49 148.94L487.14 148.42L487.78 148.11L488.43 147.82L489.07 147.62L489.72 147.17L490.36 146.84L491.01 146.58L491.65 146.30L492.30 146.27L492.95 146.09L493.59 145.66L494.24 145.65L494.88 145.33L495.53 145.24L496.17 145.30L496.82 145.00L497.46 144.95L498.11 144.93L498.75 144.90L499.40 144.98L500.04 144.87L500.69 144.85L501.33 144.70L501.98 144.96L502.62 145.05L503.27 145.07L503.92 145.76L504.56 145.65L505.21 146.04L505.85 146.40L506.50 146.79L507.14 146.76L507.79 147.13L508.43 147.50L509.08 147.90L509.72 147.95L510.37 148.22L511.01 148.88L511.66 149.13L512.30 149.44L512.95 149.74L513.60 150.28L514.24 150.36L514.89 151.03L515.53 151.48L516.18 151.97L516.82 152.45L517.47 152.67L518.11 153.20L518.76 153.77L519.40 154.27L520.05 154.49L520.69 154.95L521.34 155.50L521.98 156.06L522.63 156.67L523.27 156.98L523.92 157.48L524.57 158.14L525.21 158.73L525.86 159.03L526.50 159.87L527.15 160.26L527.79 160.59L528.44 161.37L529.08 161.94L529.73 162.73L530.37 163.10L531.02 163.55L531.66 163.84L532.31 164.77L532.95 164.88L533.60 165.72L534.24 166.32L534.89 166.80L535.54 167.60L536.18 167.96L536.83 168.42L537.47 169.47L538.12 169.95L538.76 170.62L539.41 171.06L540.05 171.69L540.70 172.11L541.34 173.12L541.99 173.47L542.63 174.32L543.28 174.84L543.92 175.56L544.57 176.10L545.21 176.94L545.86 177.34L546.51 178.02L547.15 178.97L547.80 179.47L548.44 180.05L549.09 180.88L549.73 181.55L550.38 182.15L551.02 182.69L551.67 183.34L552.31 184.19L552.96 184.69L553.60 185.70L554.25 185.89L554.89 186.94L555.54 187.45L556.18 188.42L556.83 189.14L557.48 189.75L558.12 190.44L558.77 191.32L559.41 191.79L560.06 192.32L560.70 192.92L561.35 193.46L561.99 194.01L562.64 194.52L563.28 194.92L563.93 195.50L564.57 196.02L565.22 196.59L565.86 196.83L566.51 197.51L567.15 197.76L567.80 198.47L568.45 199.04L569.09 199.41L569.74 199.88L570.38 200.34L571.03 200.77L571.67 201.23L572.32 201.50L572.96 202.21L573.61 202.66L574.25 203.09L574.90 203.24L575.54 203.85L576.19 204.23L576.83 204.51L577.48 205.10L578.12 205.71L578.77 205.91L579.42 206.25L580.06 206.54L580.71 207.04L581.35 207.63L582.00 208.03L582.64 208.44L583.29 208.91L583.93 209.07L584.58 209.66L585.22 210.06L585.87 210.54L586.51 210.94L587.16 211.13L587.80 211.36L588.45 211.88L589.10 212.14L589.74 212.55L590.39 212.83L591.03 213.10L591.68 213.16L592.32 213.29L592.97 213.70L593.61 214.10L594.26 214.47L594.90 214.52L595.55 215.04L596.19 215.35L596.84 215.27L597.48 215.83L598.13 215.77L598.77 216.13L599.42 216.22L600.07 216.76L600.71 216.68L601.36 216.88L602.00 217.05L602.65 217.48L603.29 217.53L603.94 217.86L604.58 217.63L605.23 217.99L605.87 218.16L606.52 218.16L607.16 218.49L607.81 218.56L608.45 218.77L609.10 218.77L609.74 219.28L610.39 218.99L611.04 219.25L611.68 219.53L612.33 219.38L612.97 219.39L613.62 219.89L614.26 219.93L614.91 220.06L615.55 220.12L616.20 220.53L616.84 220.48L617.49 220.71L618.13 220.71L618.78 221.00L619.42 221.07L620.07 221.22L620.71 221.34L621.36 221.40L622.01 221.52L622.65 221.82L623.30 221.85L623.94 221.92L624.59 221.93L625.23 221.96L625.88 222.28L626.52 222.31L627.17 222.28L627.81 222.47L628.46 222.70L629.10 222.80L629.75 222.99L630.39 222.75L631.04 223.00L631.68 223.19L632.33 223.27L632.98 223.17L633.62 223.31L634.27 223.40L634.91 223.49L635.56 223.76L636.20 223.86L636.85 223.82L637.49 224.01L638.14 224.00L638.78 224.15L639.43 224.21L640.07 224.14L640.72 224.42L641.36 224.47L642.01 224.27L642.65 224.70" stroke="#2f63d6" stroke-width="1.7" fill="none" stroke-dasharray="1.4 1.25"/>
<path d="M416.80 227.12L417.45 227.99L418.09 227.33L418.74 228.26L419.38 227.59L420.03 227.36L420.67 228.18L421.32 227.53L421.96 227.10L422.61 226.39L423.25 227.12L423.90 226.56L424.54 226.88L425.19 226.20L425.83 225.53L426.48 225.62L427.12 226.33L427.77 225.96L428.42 225.77L429.06 225.13L429.71 225.09L430.35 223.63L431.00 223.85L431.64 222.78L432.29 223.13L432.93 222.66L433.58 222.33L434.22 221.74L434.87 221.24L435.51 220.79L436.16 220.55L436.80 220.13L437.45 219.06L438.09 218.12L438.74 217.50L439.39 217.28L440.03 215.83L440.68 215.49L441.32 215.10L441.97 213.72L442.61 213.36L443.26 211.67L443.90 211.19L444.55 210.73L445.19 209.86L445.84 208.94L446.48 208.35L447.13 207.72L447.77 206.09L448.42 206.12L449.06 205.42L449.71 205.09L450.36 203.49L451.00 202.72L451.65 201.78L452.29 201.39L452.94 199.68L453.58 199.48L454.23 198.45L454.87 197.02L455.52 195.86L456.16 194.34L456.81 192.47L457.45 191.92L458.10 190.18L458.74 189.08L459.39 188.17L460.04 187.07L460.68 185.09L461.33 183.84L461.97 182.14L462.62 180.27L463.26 179.07L463.91 177.36L464.55 177.09L465.20 175.72L465.84 173.39L466.49 172.86L467.13 171.93L467.78 170.63L468.42 170.01L469.07 168.57L469.71 166.38L470.36 165.71L471.01 163.17L471.65 162.34L472.30 159.48L472.94 158.05L473.59 156.66L474.23 154.94L474.88 153.54L475.52 152.54L476.17 151.33L476.81 149.66L477.46 148.11L478.10 147.29L478.75 145.61L479.39 143.71L480.04 142.99L480.68 141.58L481.33 140.56L481.98 137.96L482.62 136.80L483.27 135.15L483.91 133.76L484.56 131.46L485.20 130.29L485.85 128.70L486.49 127.48L487.14 126.39L487.78 124.55L488.43 123.16L489.07 122.28L489.72 121.17L490.36 119.99L491.01 119.22L491.65 117.82L492.30 116.85L492.95 116.95L493.59 116.43L494.24 115.31L494.88 114.95L495.53 114.46L496.17 113.84L496.82 112.69L497.46 111.63L498.11 110.31L498.75 109.27L499.40 109.80L500.04 108.52L500.69 108.21L501.33 108.03L501.98 107.91L502.62 107.99L503.27 107.91L503.92 107.11L504.56 107.31L505.21 106.14L505.85 106.24L506.50 106.29L507.14 105.69L507.79 105.73L508.43 105.74L509.08 105.03L509.72 105.30L510.37 105.32L511.01 105.22L511.66 105.37L512.30 105.49L512.95 106.04L513.60 106.22L514.24 106.19L514.89 106.54L515.53 106.68L516.18 107.47L516.82 107.40L517.47 107.78L518.11 107.84L518.76 107.99L519.40 108.71L520.05 109.00L520.69 109.55L521.34 110.01L521.98 110.80L522.63 111.55L523.27 112.28L523.92 112.81L524.57 112.92L525.21 113.46L525.86 114.45L526.50 115.44L527.15 115.87L527.79 116.37L528.44 117.94L529.08 118.35L529.73 118.56L530.37 120.02L531.02 121.34L531.66 122.05L532.31 123.38L532.95 123.68L533.60 124.45L534.24 125.14L534.89 125.85L535.54 126.57L536.18 126.98L536.83 128.02L537.47 129.15L538.12 130.01L538.76 131.65L539.41 132.12L540.05 132.38L540.70 133.53L541.34 134.70L541.99 136.13L542.63 136.80L543.28 137.01L543.92 138.71L544.57 139.68L545.21 140.25L545.86 141.05L546.51 142.28L547.15 143.00L547.80 144.68L548.44 144.96L549.09 146.46L549.73 147.19L550.38 148.93L551.02 149.24L551.67 150.49L552.31 151.30L552.96 152.73L553.60 153.97L554.25 154.58L554.89 155.25L555.54 156.54L556.18 157.62L556.83 158.54L557.48 158.90L558.12 160.33L558.77 161.60L559.41 161.65L560.06 163.00L560.70 163.77L561.35 165.32L561.99 165.78L562.64 166.49L563.28 167.25L563.93 168.27L564.57 168.96L565.22 170.22L565.86 171.40L566.51 172.68L567.15 172.70L567.80 173.91L568.45 174.20L569.09 175.30L569.74 177.04L570.38 177.43L571.03 178.31L571.67 179.11L572.32 180.60L572.96 181.20L573.61 182.01L574.25 182.30L574.90 183.45L575.54 184.55L576.19 185.33L576.83 185.86L577.48 187.02L578.12 187.67L578.77 188.17L579.42 188.61L580.06 189.63L580.71 190.51L581.35 191.66L582.00 192.40L582.64 193.45L583.29 193.49L583.93 194.29L584.58 195.14L585.22 194.85L585.87 196.29L586.51 196.43L587.16 197.41L587.80 197.86L588.45 198.95L589.10 199.08L589.74 199.40L590.39 200.88L591.03 200.23L591.68 201.49L592.32 201.73L592.97 202.27L593.61 202.26L594.26 202.85L594.90 203.69L595.55 204.09L596.19 204.20L596.84 204.94L597.48 205.39L598.13 205.73L598.77 205.65L599.42 206.83L600.07 207.21L600.71 207.03L601.36 207.74L602.00 208.37L602.65 208.08L603.29 208.86L603.94 209.34L604.58 209.78L605.23 209.25L605.87 210.12L606.52 209.88L607.16 210.51L607.81 211.27L608.45 210.89L609.10 211.67L609.74 211.71L610.39 212.71L611.04 213.04L611.68 213.05L612.33 213.48L612.97 213.20L613.62 213.62L614.26 214.42L614.91 214.30L615.55 215.46L616.20 215.01L616.84 215.17L617.49 215.87L618.13 216.11L618.78 215.95L619.42 216.35L620.07 215.94L620.71 216.98L621.36 216.76L622.01 216.60L622.65 216.90L623.30 217.37L623.94 217.93L624.59 218.00L625.23 217.92L625.88 218.33L626.52 218.45L627.17 218.86L627.81 219.03L628.46 218.55L629.10 218.93L629.75 220.16L630.39 219.49L631.04 219.52L631.68 220.29L632.33 220.50L632.98 220.46L633.62 220.63L634.27 220.76L634.91 221.11L635.56 220.29L636.20 221.49L636.85 221.09L637.49 221.23L638.14 221.57L638.78 221.53L639.43 221.43L640.07 222.20L640.72 221.85L641.36 221.96L642.01 222.64L642.65 223.35" stroke="#2f63d6" stroke-width="1.7" fill="none" stroke-linejoin="round"/>
<path d="M573 106.7H590.2" stroke="#2f63d6" stroke-width="1.7"/>
<path d="M573 120.8H590.2" stroke="#2f63d6" stroke-width="1.6" stroke-dasharray="1.4 1.6"/>
<path d="M573 135.6H590.2" stroke="#ff3312" stroke-width="1.7"/>
<path d="M573 148.8H590.2" stroke="#ff3312" stroke-width="1.6" stroke-dasharray="1.4 1.6"/>
<text x="598.9" y="112.2" font-size="11.1" font-weight="400" fill="#000" stroke="#000" stroke-width="0.12">Na<tspan font-size="9" dy="-4">+</tspan></text>
<text x="598.9" y="124.6" font-size="11.1" font-weight="400" fill="#000" stroke="#000" stroke-width="0.12">Na+ + vilazodone</text>
<text x="598.9" y="140.6" font-size="11.1" font-weight="400" fill="#000" stroke="#000" stroke-width="0.12">K<tspan font-size="9" dy="-4">+</tspan></text>
<text x="598.9" y="153.5" font-size="11.1" font-weight="400" fill="#000" stroke="#000" stroke-width="0.12">K<tspan font-size="9" dy="-4">+</tspan><tspan dy="4" font-size="11.1"> + vilazodone</tspan></text>
</g>
</svg>
</body></html>
